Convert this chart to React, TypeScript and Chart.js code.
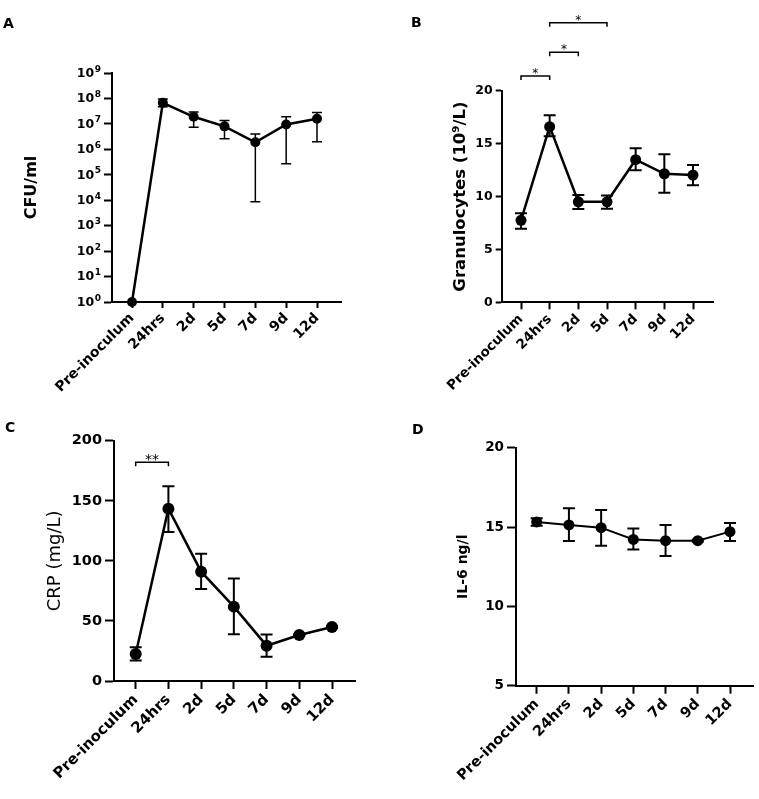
import React, { useEffect, useRef } from "react";
import { Chart, registerables } from "chart.js";

Chart.register(...registerables);

// ---------- data ----------
const categories = ["Pre-inoculum", "24hrs", "2d", "5d", "7d", "9d", "12d"];

// A: CFU/ml (log scale)
const cfuMean = [1, 6.7e7, 1.9e7, 8e6, 1.9e6, 9.5e6, 1.6e7];
const cfuUpper = [null, 9.5e7, 2.9e7, 1.35e7, 4e6, 1.9e7, 2.8e7];
const cfuLower = [null, 4.7e7, 7.3e6, 2.6e6, 8.7e3, 2.7e5, 2e6];
const cfuTickExponents = [0, 1, 2, 3, 4, 5, 6, 7, 8, 9];

// B: Granulocytes (10^9/L)
const granMean = [7.75, 16.6, 9.5, 9.5, 13.48, 12.15, 12.03];
const granUpper = [8.41, 17.67, 10.14, 10.1, 14.55, 13.99, 12.98];
const granLower = [6.96, 15.7, 8.82, 8.85, 12.47, 10.36, 11.06];
const granTicks = [0, 5, 10, 15, 20];
const granSigFrom = [0, 1, 1];
const granSigTo = [1, 2, 3];
const granSigLevel = [21.4, 23.63, 26.43];
const granSigLabel = ["*", "*", "*"];

// C: CRP (mg/L)
const crpMean = [22.5, 143.4, 91, 61.9, 29.4, 38.3, 45];
const crpUpper = [28, 162, 106, 85.4, 38.6, 39, 45.8];
const crpLower = [17, 124, 76.6, 39, 20.2, 37.6, 44.2];
const crpTicks = [0, 50, 100, 150, 200];
const crpSigFrom = [0];
const crpSigTo = [1];
const crpSigLevel = [182];
const crpSigLabel = ["**"];

// D: IL-6 ng/l
const il6Mean = [15.32, 15.13, 14.96, 14.22, 14.14, 14.14, 14.71];
const il6Upper = [15.55, 16.18, 16.07, 14.9, 15.13, 14.2, 15.25];
const il6Lower = [15.08, 14.12, 13.82, 13.59, 13.17, 14.08, 14.12];
const il6Ticks = [5, 10, 15, 20];

// ---------- layout / style ----------
const FAMILY = "'DejaVu Sans', 'Liberation Sans', sans-serif";

type Spec = {
  id: string;
  letter: string;
  box: { x: number; y: number; w: number; h: number };
  area: { left: number; right: number; top: number; bottom: number };
  letterX: number;
  letterCy: number;
  xFirst: number;
  xLast: number;
  mean: number[];
  upper: (number | null)[];
  lower: (number | null)[];
  yType: "linear" | "logarithmic";
  yMin: number;
  yMax: number;
  yTicks: number[];
  powerLabels?: boolean;
  yTitle: string;
  yTitleCx: number;
  yTitleSize: number;
  yTitleWeight: string;
  yTickSize: number;
  xTickSize: number;
  yTickLen: number;
  xTickLen: number;
  lineWidth: number;
  pointRadius: number;
  errWidth: number;
  capHalf: number;
  sigFrom?: number[];
  sigTo?: number[];
  sigLevel?: number[];
  sigLabel?: string[];
  sigSize?: number;
};

const specs: Spec[] = [
  {
    id: "A",
    letter: "A",
    box: { x: 0, y: 0, w: 380, h: 400 },
    area: { left: 112, right: 341, top: 73, bottom: 302 },
    letterX: 3,
    letterCy: 24,
    xFirst: 132,
    xLast: 317,
    mean: cfuMean,
    upper: cfuUpper,
    lower: cfuLower,
    yType: "logarithmic",
    yMin: 1,
    yMax: 1e9,
    yTicks: cfuTickExponents.map((e) => Math.pow(10, e)),
    powerLabels: true,
    yTitle: "CFU/ml",
    yTitleCx: 32,
    yTitleSize: 16,
    yTitleWeight: "bold",
    yTickSize: 12.5,
    xTickSize: 14,
    yTickLen: 8,
    xTickLen: 6,
    lineWidth: 2.5,
    pointRadius: 5,
    errWidth: 1.5,
    capHalf: 5,
  },
  {
    id: "B",
    letter: "B",
    box: { x: 380, y: 0, w: 379, h: 400 },
    area: { left: 121.7, right: 333, top: 90.7, bottom: 302.3 },
    letterX: 31,
    letterCy: 23.5,
    xFirst: 141,
    xLast: 313,
    mean: granMean,
    upper: granUpper,
    lower: granLower,
    yType: "linear",
    yMin: 0,
    yMax: 20,
    yTicks: granTicks,
    yTitle: "Granulocytes (10\u2079/L)",
    yTitleCx: 80.5,
    yTitleSize: 16.5,
    yTitleWeight: "bold",
    yTickSize: 12.5,
    xTickSize: 13.5,
    yTickLen: 6,
    xTickLen: 7,
    lineWidth: 2.5,
    pointRadius: 5.5,
    errWidth: 2,
    capHalf: 6,
    sigFrom: granSigFrom,
    sigTo: granSigTo,
    sigLevel: granSigLevel,
    sigLabel: granSigLabel,
    sigSize: 12,
  },
  {
    id: "C",
    letter: "C",
    box: { x: 0, y: 400, w: 380, h: 399 },
    area: { left: 114, right: 355, top: 40.7, bottom: 281 },
    letterX: 5,
    letterCy: 28.5,
    xFirst: 135.7,
    xLast: 332,
    mean: crpMean,
    upper: crpUpper,
    lower: crpLower,
    yType: "linear",
    yMin: 0,
    yMax: 200,
    yTicks: crpTicks,
    yTitle: "CRP (mg/L)",
    yTitleCx: 55,
    yTitleSize: 18,
    yTitleWeight: "normal",
    yTickSize: 14.5,
    xTickSize: 15,
    yTickLen: 9,
    xTickLen: 8,
    lineWidth: 2.5,
    pointRadius: 6,
    errWidth: 2,
    capHalf: 6,
    sigFrom: crpSigFrom,
    sigTo: crpSigTo,
    sigLevel: crpSigLevel,
    sigLabel: crpSigLabel,
    sigSize: 14,
  },
  {
    id: "D",
    letter: "D",
    box: { x: 380, y: 400, w: 379, h: 399 },
    area: { left: 136, right: 373, top: 47.7, bottom: 285.7 },
    letterX: 32,
    letterCy: 30,
    xFirst: 156.7,
    xLast: 350,
    mean: il6Mean,
    upper: il6Upper,
    lower: il6Lower,
    yType: "linear",
    yMin: 5,
    yMax: 20,
    yTicks: il6Ticks,
    yTitle: "IL-6 ng/l",
    yTitleCx: 83.5,
    yTitleSize: 14,
    yTitleWeight: "bold",
    yTickSize: 13.5,
    xTickSize: 14.5,
    yTickLen: 9,
    xTickLen: 8,
    lineWidth: 2,
    pointRadius: 5.5,
    errWidth: 2,
    capHalf: 6,
  },
];

function buildConfig(s: Spec): any {
  const spacing = (s.xLast - s.xFirst) / (categories.length - 1);
  const xMin = -(s.xFirst - s.area.left) / spacing;
  const xMax = categories.length - 1 + (s.area.right - s.xLast) / spacing;
  const letterSize = 14;
  const titleTop = s.letterCy - letterSize / 2;
  const titleBottom = s.area.top - titleTop - letterSize;
  const yAxisWidth = s.area.left - s.letterX;
  const xAxisHeight = s.box.h - s.area.bottom;
  const yTitlePad = s.yTitleCx - s.letterX - (s.yTitleSize * 1.2) / 2;

  const errorBars = {
    id: "errorBars" + s.id,
    beforeDatasetsDraw(chart: any) {
      const { ctx, scales } = chart;
      const xs = scales.x;
      const ys = scales.y;
      ctx.save();
      ctx.strokeStyle = "#000";
      ctx.lineWidth = s.errWidth;
      s.mean.forEach((_, i) => {
        const up = s.upper[i];
        const lo = s.lower[i];
        if (up == null || lo == null) return;
        const x = xs.getPixelForValue(i);
        const y1 = ys.getPixelForValue(up);
        const y2 = ys.getPixelForValue(lo);
        ctx.beginPath();
        ctx.moveTo(x, y1);
        ctx.lineTo(x, y2);
        ctx.moveTo(x - s.capHalf, y1);
        ctx.lineTo(x + s.capHalf, y1);
        ctx.moveTo(x - s.capHalf, y2);
        ctx.lineTo(x + s.capHalf, y2);
        ctx.stroke();
      });
      ctx.restore();
    },
  };

  const brackets = {
    id: "brackets" + s.id,
    afterDatasetsDraw(chart: any) {
      if (!s.sigFrom) return;
      const { ctx, scales } = chart;
      const xs = scales.x;
      const ys = scales.y;
      ctx.save();
      ctx.strokeStyle = "#000";
      ctx.fillStyle = "#000";
      ctx.lineWidth = 1.5;
      ctx.font = `${s.sigSize}px ${FAMILY}`;
      ctx.textAlign = "center";
      ctx.textBaseline = "alphabetic";
      s.sigFrom.forEach((from, k) => {
        const to = s.sigTo![k];
        const xa = xs.getPixelForValue(from);
        const xb = xs.getPixelForValue(to);
        const y = ys.getPixelForValue(s.sigLevel![k]);
        ctx.beginPath();
        ctx.moveTo(xa, y + 4);
        ctx.lineTo(xa, y);
        ctx.lineTo(xb, y);
        ctx.lineTo(xb, y + 4);
        ctx.stroke();
        ctx.fillText(s.sigLabel![k], (xa + xb) / 2, y - 3 + s.sigSize! * 0.35);
      });
      ctx.restore();
    },
  };

  // "10" with a raised exponent, for the log axis
  const powerLabels = {
    id: "powerLabels" + s.id,
    afterDraw(chart: any) {
      if (!s.powerLabels) return;
      const { ctx, scales } = chart;
      const ys = scales.y;
      const right = chart.chartArea.left - s.yTickLen - 3;
      const baseFont = `bold ${s.yTickSize}px ${FAMILY}`;
      const expFont = `bold ${Math.round(s.yTickSize * 0.7)}px ${FAMILY}`;
      ctx.save();
      ctx.fillStyle = "#000";
      s.yTicks.forEach((v) => {
        const y = ys.getPixelForValue(v);
        const exp = String(Math.round(Math.log10(v)));
        ctx.font = expFont;
        const ew = ctx.measureText(exp).width;
        ctx.textAlign = "left";
        ctx.textBaseline = "alphabetic";
        ctx.fillText(exp, right - ew, y - 1.5);
        ctx.font = baseFont;
        ctx.textAlign = "right";
        ctx.textBaseline = "middle";
        ctx.fillText("10", right - ew - 0.5, y + 0.5);
      });
      ctx.restore();
    },
  };

  const tickFontY = { family: FAMILY, size: s.yTickSize, weight: "bold" };
  const tickFontX = { family: FAMILY, size: s.xTickSize, weight: "bold" };

  return {
    type: "line",
    data: {
      datasets: [
        {
          data: s.mean.map((v, i) => ({ x: i, y: v })),
          borderColor: "#000",
          backgroundColor: "#000",
          borderWidth: s.lineWidth,
          pointRadius: s.pointRadius,
          pointBackgroundColor: "#000",
          pointBorderColor: "#000",
          pointBorderWidth: 0,
          tension: 0,
          clip: false,
        },
      ],
    },
    options: {
      animation: false,
      responsive: false,
      maintainAspectRatio: false,
      events: [],
      layout: {
        padding: {
          left: s.letterX,
          right: s.box.w - s.area.right,
          top: 0,
          bottom: 0,
        },
      },
      plugins: {
        legend: { display: false },
        tooltip: { enabled: false },
        title: {
          display: true,
          text: s.letter,
          align: "start",
          color: "#000",
          font: { family: FAMILY, size: letterSize, weight: "bold", lineHeight: 1 },
          padding: { top: titleTop, bottom: titleBottom },
        },
      },
      scales: {
        x: {
          type: "linear",
          min: xMin,
          max: xMax,
          afterBuildTicks: (axis: any) => {
            axis.ticks = categories.map((_, i) => ({ value: i }));
          },
          afterFit: (axis: any) => {
            axis.height = xAxisHeight;
          },
          ticks: {
            autoSkip: false,
            minRotation: 45,
            maxRotation: 45,
            padding: 2,
            color: "#000",
            font: tickFontX,
            callback: (v: number) => categories[Math.round(v)],
          },
          grid: {
            display: true,
            drawOnChartArea: false,
            drawTicks: true,
            tickLength: s.xTickLen,
            tickWidth: 2,
            tickColor: "#000",
          },
          border: { display: true, color: "#000", width: 2 },
        },
        y: {
          type: s.yType,
          min: s.yMin,
          max: s.yMax,
          afterBuildTicks: (axis: any) => {
            axis.ticks = s.yTicks.map((v) => ({ value: v }));
          },
          afterFit: (axis: any) => {
            axis.width = yAxisWidth;
          },
          ticks: {
            autoSkip: false,
            padding: 3,
            color: "#000",
            font: tickFontY,
            callback: (v: number) => (s.powerLabels ? "" : String(v)),
          },
          grid: {
            display: true,
            drawOnChartArea: false,
            drawTicks: true,
            tickLength: s.yTickLen,
            tickWidth: 2,
            tickColor: "#000",
          },
          border: { display: true, color: "#000", width: 2 },
          title: {
            display: true,
            text: s.yTitle,
            color: "#000",
            font: { family: FAMILY, size: s.yTitleSize, weight: s.yTitleWeight, lineHeight: 1.2 },
            padding: { top: yTitlePad, bottom: 0 },
          },
        },
      },
    },
    plugins: [errorBars, brackets, powerLabels],
  };
}

function Panel({ spec }: { spec: Spec }) {
  const ref = useRef<HTMLCanvasElement | null>(null);
  useEffect(() => {
    if (!ref.current) return;
    const chart = new Chart(ref.current, buildConfig(spec));
    return () => chart.destroy();
  }, [spec]);
  return (
    <canvas
      ref={ref}
      width={spec.box.w}
      height={spec.box.h}
      style={{
        position: "absolute",
        left: spec.box.x,
        top: spec.box.y,
        width: spec.box.w,
        height: spec.box.h,
      }}
    />
  );
}

export default function App() {
  return (
    <div
      style={{
        position: "absolute",
        left: 0,
        top: 0,
        width: 759,
        height: 799,
        background: "#fff",
      }}
    >
      {specs.map((s) => (
        <Panel key={s.id} spec={s} />
      ))}
    </div>
  );
}
